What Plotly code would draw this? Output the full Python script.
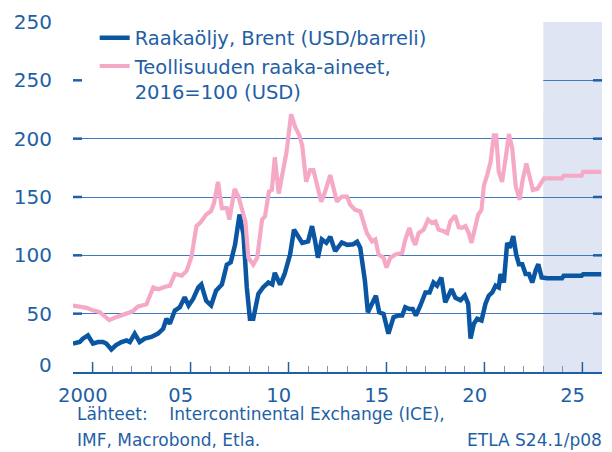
import plotly.graph_objects as go

# ---------------- data ----------------
brent_t = [2000.0, 2000.34, 2000.5, 2000.76, 2001.02, 2001.27, 2001.53, 2001.7, 2001.96,
           2002.2, 2002.47, 2002.73, 2002.9, 2003.15, 2003.4, 2003.66, 2004.0, 2004.34,
           2004.6, 2004.77, 2004.94, 2005.2, 2005.45, 2005.7, 2005.9, 2006.13, 2006.4,
           2006.55, 2006.8, 2007.05, 2007.3, 2007.6, 2007.85, 2008.05, 2008.27, 2008.5,
           2008.7, 2008.87, 2009.03, 2009.2, 2009.46, 2009.7, 2009.97, 2010.17, 2010.3,
           2010.57, 2010.8, 2011.08, 2011.28, 2011.5, 2011.7, 2012.0, 2012.2, 2012.36,
           2012.5, 2012.7, 2012.93, 2013.13, 2013.38, 2013.72, 2014.0, 2014.3, 2014.5,
           2014.66, 2014.8, 2014.9, 2015.05, 2015.26, 2015.46, 2015.63, 2015.85, 2016.1,
           2016.36, 2016.6, 2016.8, 2016.96, 2017.17, 2017.34, 2017.5, 2017.73, 2017.99,
           2018.2, 2018.4, 2018.58, 2018.8, 2019.0, 2019.32, 2019.52, 2019.78, 2020.0,
           2020.17, 2020.29, 2020.46, 2020.63, 2020.85, 2021.05, 2021.22, 2021.4, 2021.57,
           2021.73, 2021.82, 2021.99, 2022.16, 2022.3, 2022.47, 2022.62, 2022.76, 2022.93,
           2023.1, 2023.27, 2023.44, 2023.61, 2023.75, 2023.92]
brent_v = [24.4, 25.7, 28.6, 31.4, 24.4, 25.7, 25.7, 24.4, 19.3,
           23.0, 25.7, 27.0, 25.7, 32.9, 25.7, 28.6, 30.0, 32.9,
           37.0, 45.6, 41.4, 52.7, 55.5, 64.0, 57.0, 62.6, 72.5,
           75.0, 61.0, 57.0, 69.7, 75.0, 92.0, 94.0, 109.0, 135.0,
           118.0, 72.5, 45.6, 45.6, 67.0, 72.5, 76.7, 75.0, 85.0,
           75.0, 84.0, 100.8, 122.0, 115.0, 110.7, 112.0, 125.0, 112.0,
           98.0, 113.6, 110.7, 116.0, 103.6, 111.0, 109.0, 109.5, 111.6,
           106.5, 90.0, 78.0, 51.2, 58.4, 65.4, 51.2, 49.8, 32.9,
           47.0, 48.4, 48.4, 55.5, 54.0, 54.0, 48.4, 57.0, 68.2,
           68.2, 76.7, 74.0, 81.0, 59.7, 71.0, 63.5, 61.5, 65.4,
           58.4, 28.6, 41.4, 45.6, 44.2, 58.4, 65.4, 68.2, 74.0,
           72.5, 84.0, 76.7, 110.7, 106.5, 116.4, 100.8, 92.4, 92.4,
           84.0, 84.0, 76.7, 86.7, 92.4, 81.0]

raw_t = [2000.0, 2000.35, 2000.7, 2001.0, 2001.35, 2001.6, 2001.85, 2002.2, 2002.5,
         2002.8, 2003.05, 2003.3, 2003.75, 2004.1, 2004.35, 2004.7, 2004.95, 2005.2,
         2005.55, 2005.8, 2006.05, 2006.3, 2006.5, 2006.8, 2007.05, 2007.2, 2007.4,
         2007.6, 2007.85, 2007.98, 2008.25, 2008.45, 2008.6, 2008.8, 2008.95, 2009.2,
         2009.4, 2009.65, 2009.8, 2010.0, 2010.15, 2010.3, 2010.5, 2010.7, 2010.9,
         2011.13, 2011.34, 2011.55, 2011.7, 2011.9, 2012.1, 2012.27, 2012.48, 2012.67,
         2012.87, 2013.13, 2013.3, 2013.47, 2013.72, 2013.98, 2014.15, 2014.4, 2014.66,
         2014.83, 2015.0, 2015.26, 2015.43, 2015.6, 2015.85, 2016.0, 2016.2, 2016.45,
         2016.8, 2016.96, 2017.17, 2017.34, 2017.47, 2017.64, 2017.9, 2018.12, 2018.33,
         2018.5, 2018.66, 2018.92, 2019.1, 2019.26, 2019.5, 2019.69, 2019.86, 2020.03,
         2020.2, 2020.34, 2020.5, 2020.68, 2020.85, 2020.97, 2021.14, 2021.31, 2021.48,
         2021.6, 2021.73, 2021.9, 2022.08, 2022.25, 2022.42, 2022.6, 2022.8, 2022.93,
         2023.14, 2023.3, 2023.47, 2023.7, 2023.87, 2023.96]
raw_v = [57.0, 56.0, 55.0, 53.0, 51.5, 48.0, 44.5, 47.0, 49.0,
         50.5, 52.0, 56.0, 58.0, 72.5, 71.0, 73.0, 74.0, 84.0,
         82.5, 86.6, 99.0, 125.0, 128.0, 135.0, 138.0, 145.0, 163.0,
         140.5, 140.5, 130.6, 157.0, 150.0, 140.5, 129.0, 98.0, 92.0,
         98.0, 130.6, 133.4, 154.6, 156.0, 184.0, 153.0, 169.0, 188.6,
         221.0, 210.0, 203.0, 194.0, 163.0, 173.0, 173.0, 159.0, 146.0,
         154.6, 168.8, 157.4, 146.0, 150.4, 150.4, 143.3, 139.0, 137.6,
         127.7, 119.0, 112.0, 113.6, 100.8, 98.0, 89.5, 98.0, 100.8,
         102.0, 113.6, 123.5, 113.6, 109.0, 119.0, 122.0, 130.6, 127.7,
         129.0, 122.0, 120.6, 119.0, 129.0, 134.0, 124.0, 123.5, 125.0,
         119.0, 110.7, 120.6, 134.8, 139.0, 160.0, 168.8, 180.0, 202.8,
         202.8, 171.6, 163.0, 183.0, 204.0, 191.4, 159.0, 147.6, 163.0,
         178.7, 166.0, 156.0, 157.0, 161.7, 164.0]

forecast_years = [2024, 2025, 2026]
brent_forecast = [80.4, 82.4, 83.8]
raw_forecast = [166.0, 168.2, 171.6]

series_names = ["Raakaöljy, Brent (USD/barreli)",
                "Teollisuuden raaka-aineet,<br>2016=100 (USD)"]

y_tickvals = [50, 100, 150, 200, 250, 300]
y_ticktext = ["50", "100", "150", "200", "250", "250"]
y_zero_label = "0"
y_mark_vals = [50, 100, 150, 200, 250]
x_label_years = [2000, 2005, 2010, 2015, 2020, 2025]
x_label_text = ["2000", "05", "10", "15", "20", "25"]
x_major_ticks = [2001, 2006, 2011, 2016, 2021, 2026]
x_minor_ticks = list(range(2001, 2027))
x_range = [2000, 2027]
y_range = [0, 300]
forecast_start = 2024

source_line1 = "Lähteet:\u00a0\u00a0\u00a0\u00a0Intercontinental Exchange (ICE),"
source_line2 = "IMF, Macrobond, Etla."
chart_id = "ETLA S24.1/p08"

# ---------------- styling ----------------
TXT = "#1f5fa6"
BRENT = "#0a56a2"
PINK = "#f5a9c6"
GRID = "#3f78bd"
MINOR = "#6a96cc"
SHADE = "#dfe5f3"
FONT = "DejaVu Sans"


def expand(years, values):
    ts, vs = [], []
    for y, v in zip(years, values):
        for m in range(12):
            ts.append(y + (m + 0.5) / 12)
            vs.append(v)
    return ts, vs


bf_t, bf_v = expand(forecast_years, brent_forecast)
rf_t, rf_v = expand(forecast_years, raw_forecast)

fig = go.Figure()
fig.add_trace(go.Scatter(x=brent_t + bf_t, y=brent_v + bf_v, mode="lines",
                         name=series_names[0],
                         line=dict(color=BRENT, width=4.5)))
fig.add_trace(go.Scatter(x=raw_t + rf_t, y=raw_v + rf_v, mode="lines",
                         name=series_names[1],
                         line=dict(color=PINK, width=4.2)))

# forecast shading (below grid) and legend background (between grid and traces)
fig.add_shape(type="rect", xref="x", yref="paper", x0=forecast_start, x1=x_range[1],
              y0=0, y1=1, fillcolor=SHADE, line=dict(width=0), layer="below")
fig.add_shape(type="rect", xref="x", yref="y", x0=x_range[0], x1=forecast_start,
              y0=226, y1=296, fillcolor="white", line=dict(width=0), layer="between")

# major x ticks (longer, upward from the axis)
for yr in x_major_ticks:
    fig.add_shape(type="line", xref="x", yref="y", ysizemode="pixel", yanchor=y_range[0],
                  x0=yr, x1=yr, y0=0, y1=10, line=dict(color=TXT, width=1.5),
                  layer="above")
# y tick marks on both sides, pointing inwards
for v in y_mark_vals:
    fig.add_shape(type="line", xref="x", yref="y", xsizemode="pixel", xanchor=x_range[0],
                  x0=0, x1=9, y0=v, y1=v, line=dict(color=TXT, width=2.5), layer="above")
    fig.add_shape(type="line", xref="x", yref="y", xsizemode="pixel", xanchor=x_range[1],
                  x0=-9, x1=0, y0=v, y1=v, line=dict(color=TXT, width=2.5), layer="above")

tick_font = dict(size=20, color=TXT, family=FONT)
x_tick_font = dict(size=19.5, color=TXT, family=FONT)

fig.update_layout(
    width=612, height=452,
    margin=dict(l=73, r=10, t=19, b=80),
    paper_bgcolor="white", plot_bgcolor="white",
    font=dict(family=FONT, color=TXT, size=20),
    showlegend=True,
    legend=dict(x=0.041, y=1.01, xanchor="left", yanchor="top",
                bgcolor="rgba(0,0,0,0)", font=dict(size=19.5, color=TXT, family=FONT),
                itemwidth=30, valign="top", tracegroupgap=0),
    xaxis=dict(range=x_range, autorange=False, showgrid=False, zeroline=False,
               showline=True, linecolor=TXT, linewidth=2,
               tickmode="array", tickvals=[y + 0.5 for y in x_label_years],
               ticktext=x_label_text, ticks="", tickfont=x_tick_font,
               ticklabelstandoff=5,
               minor=dict(tickmode="array", tickvals=x_minor_ticks, ticks="inside",
                          ticklen=6, tickwidth=1, tickcolor=MINOR, showgrid=False)),
    yaxis=dict(range=y_range, autorange=False, tickmode="array", tickvals=y_tickvals,
               ticktext=y_ticktext, showgrid=True, gridcolor=GRID, gridwidth=1,
               zeroline=False, showline=False, ticks="",
               tickfont=tick_font, ticklabelstandoff=20),
)

# the zero label sits slightly above the axis line in the original
fig.add_annotation(text=y_zero_label, xref="paper", yref="y", x=0, y=y_range[0],
                   xanchor="right", yanchor="middle", xshift=-19, yshift=7,
                   showarrow=False, font=tick_font)

foot_font = dict(size=17, color=TXT, family=FONT)
fig.add_annotation(text=source_line1, xref="paper", yref="paper", x=0.003, y=-0.119,
                   xanchor="left", yanchor="middle", showarrow=False, font=foot_font)
fig.add_annotation(text=source_line2, xref="paper", yref="paper", x=0.003, y=-0.195,
                   xanchor="left", yanchor="middle", showarrow=False, font=foot_font)
fig.add_annotation(text=chart_id, xref="paper", yref="paper", x=1.003, y=-0.195,
                   xanchor="right", yanchor="middle", showarrow=False, font=foot_font)

fig.write_html("out.html", config={"displayModeBar": False},
               post_script="document.body.style.margin='0';")
